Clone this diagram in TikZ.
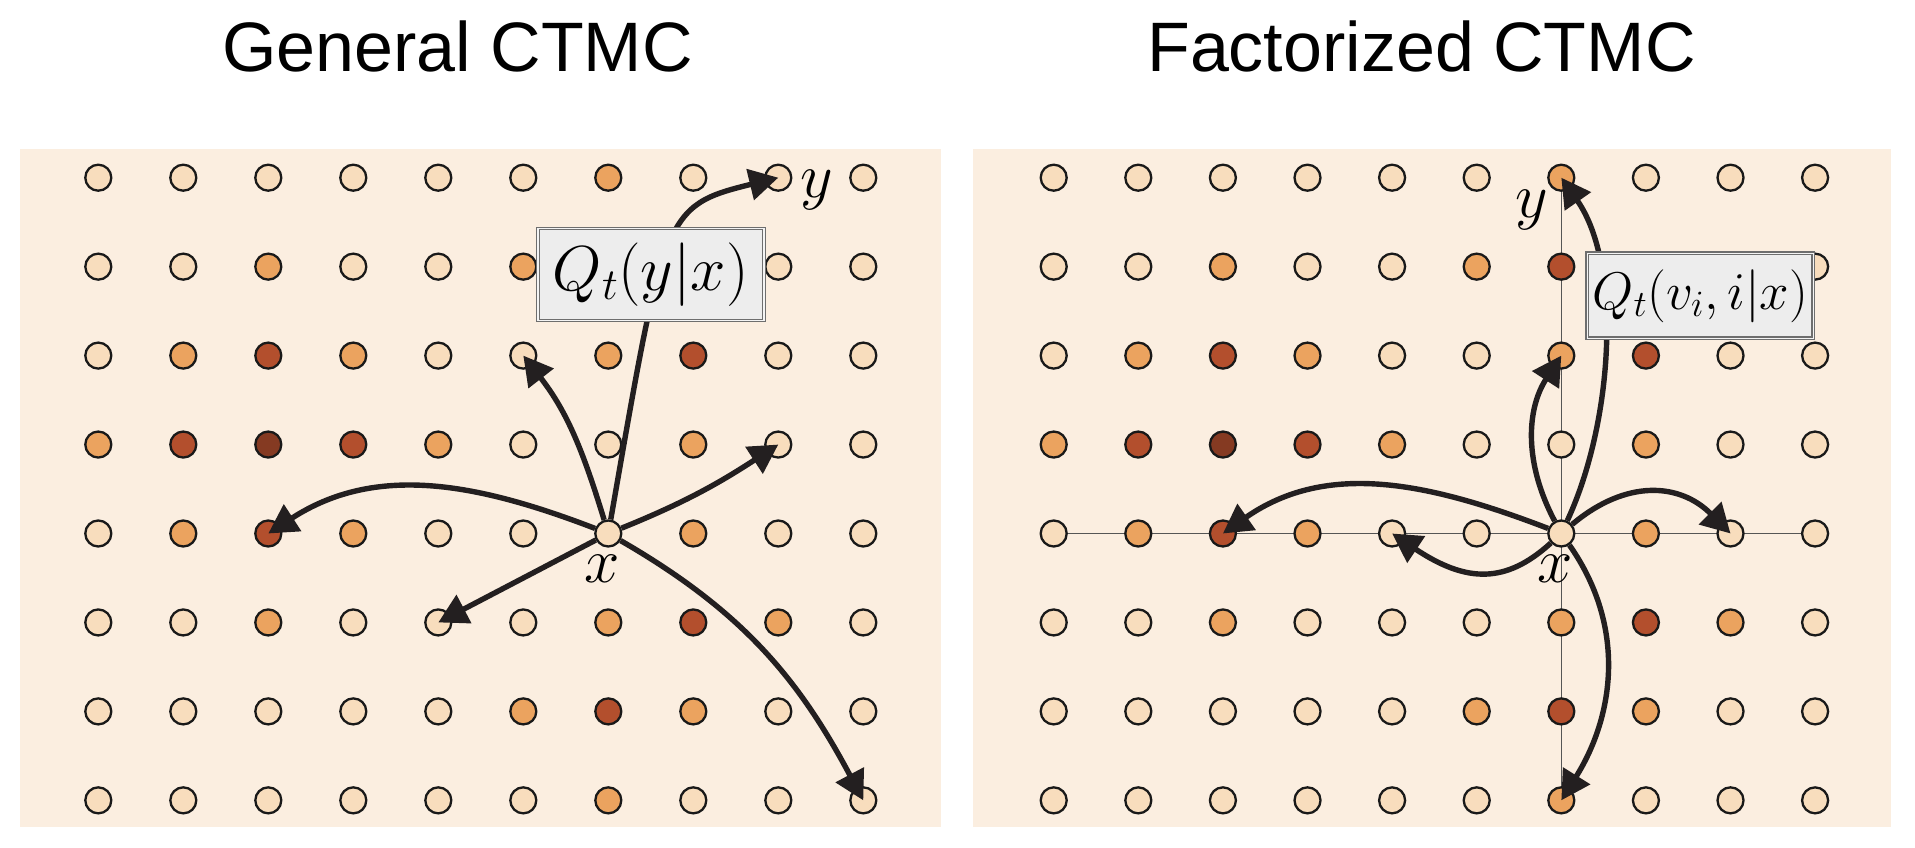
\RequirePackage{fix-cm}
\documentclass[tikz,border=0pt]{standalone}
\usepackage{fontspec}
\newfontfamily\titlefont{Liberation Sans}
\usetikzlibrary{arrows.meta,calc}
\definecolor{bgc}{HTML}{FBEEE0}
\definecolor{c0}{HTML}{F8DDBD}
\definecolor{c1}{HTML}{EBA35F}
\definecolor{c2}{HTML}{B34F2D}
\definecolor{c3}{HTML}{853A22}
\definecolor{arr}{HTML}{231F20}
\definecolor{boxfill}{HTML}{EDEDED}
\definecolor{boxline}{HTML}{6E6E6E}
\definecolor{gline}{HTML}{555555}
\pgfdeclarelayer{bg}
\pgfsetlayers{bg,main}
\begin{document}
\begin{tikzpicture}[x=1pt,y=1pt,
  dot/.style={circle,draw=black!90,line width=2.3pt,minimum size=26pt,inner sep=0pt},
  flow/.style={draw=arr,line width=5.4pt,-{Triangle[length=29pt,width=31pt]}},
  qbox/.style={draw=boxline,line width=1.2pt,double=boxfill!60!white,double distance=1.4pt,fill=boxfill,inner sep=0pt},
  lab/.style={inner sep=0pt,font=\fontsize{63.5}{70}\selectfont},
  ttl/.style={inner sep=0pt,anchor=base,font=\titlefont\fontsize{70}{84}\selectfont},
  gridline/.style={draw=gline,line width=1.5pt}]
\useasboundingbox (0,0) rectangle (1915,847);
\begin{pgfonlayer}{bg}
  \fill[bgc] (20,20.3) rectangle (941,698);
  \fill[bgc] (972.5,20.3) rectangle (1890.5,698);
\end{pgfonlayer}
\node[ttl] (t1) at (457.5,775.3) {General CTMC};
\node[ttl] (t2) at (1421.5,775.3) {Factorized CTMC};
\foreach \r/\vals in {0/{0,0,0,0,0,0,1,0,0,0},1/{0,0,1,0,0,1,2,1,0,0},2/{0,1,2,1,0,0,1,2,0,0},3/{1,2,3,2,1,0,0,1,0,0},4/{0,1,2,1,0,0,0,1,0,0},5/{0,0,1,0,0,0,1,2,1,0},6/{0,0,0,0,0,1,2,1,0,0},7/{0,0,0,0,0,0,1,0,0,0}}{
  \foreach \v [count=\c from 0] in \vals {
    \node[dot,fill=c\v] (L-\c-\r) at ({98.3+85*\c},{669.3-88.95*\r}) {};
    \node[dot,fill=c\v] (R-\c-\r) at ({1053.7+84.6*\c},{669.3-88.95*\r}) {};
  }
}
\begin{pgfonlayer}{bg}
  \draw[gridline] (R-0-4.center) -- (R-9-4.center);
  \draw[gridline] (R-6-0.center) -- (R-6-7.center);
\end{pgfonlayer}
% left panel
\draw[flow] (L-6-4) to[out=159,in=33] (L-2-4.center);
\draw[flow] (L-6-4) -- (L-4-5.center);
\draw[flow] (L-6-4) to[out=107,in=-52] (L-5-2.center);
\draw[flow] (L-6-4) .. controls +(56,320) and +(-115,-28) .. (L-8-0.center);
\draw[flow] (L-6-4) to[out=22,in=213] (L-8-3.center);
\draw[flow] (L-6-4) to[out=-30,in=118] (L-9-7.center);
% right panel
\draw[flow] (R-6-4) to[out=65,in=-55,looseness=0.8] (R-6-0.center);
\draw[flow] (R-6-4) to[out=118,in=-123] (R-6-2.center);
\draw[flow] (R-6-4) to[out=159,in=35] (R-2-4.center);
\draw[flow] (R-6-4) .. controls +(-55,-50) and +(75,-50) .. (R-4-4.center);
\draw[flow] (R-6-4) to[out=40,in=135,looseness=1.15] (R-8-4.center);
\draw[flow] (R-6-4) to[out=-55,in=58] (R-6-7.center);
% boxes
\node[qbox,minimum width=226pt,minimum height=92pt,font=\fontsize{63.5}{70}\selectfont] (q1) at (650.8,572.5) {$Q_t(y|x)$};
\node[qbox,minimum width=226pt,minimum height=85pt,font=\fontsize{53}{60}\selectfont] (q2) at (1700.3,551.2) {$Q_t(v_i,i|x)$};
% labels
\node[lab] (lxl) at ($(L-6-4)+(-6.5,-35.5)$) {$x$};
\node[lab] (lyl) at ($(L-8-0)+(38.4,-12.3)$) {$y$};
\node[lab] (rxl) at ($(R-6-4)+(-6.5,-35.5)$) {$x$};
\node[lab] (ryl) at ($(R-6-0)+(-29.6,-32.3)$) {$y$};
\end{tikzpicture}
\end{document}
